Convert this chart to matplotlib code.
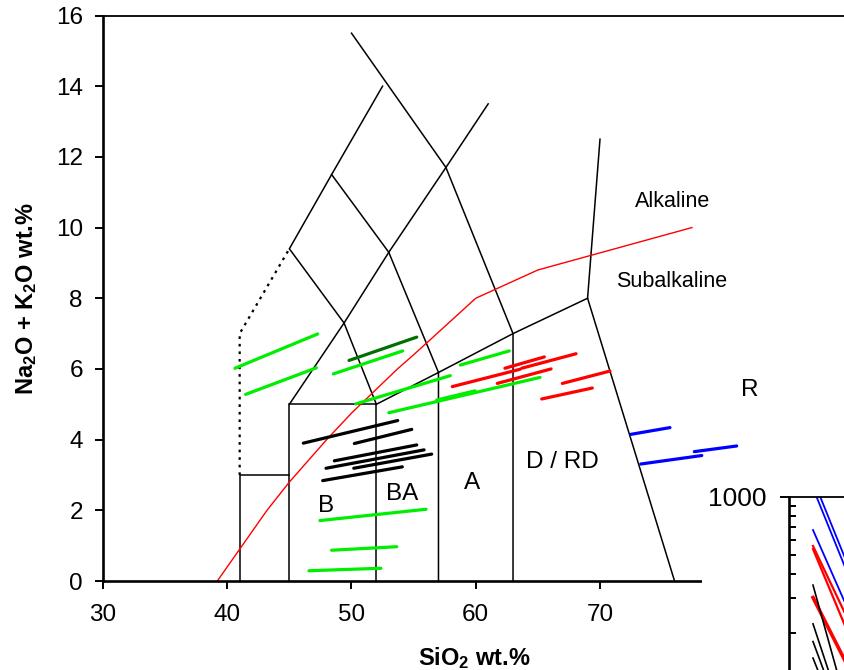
import matplotlib
matplotlib.use("Agg")
import matplotlib.pyplot as plt
from matplotlib.patches import Rectangle
from matplotlib.ticker import NullFormatter, FixedLocator, FixedFormatter

plt.rcParams['font.family'] = ['Liberation Sans', 'DejaVu Sans']
plt.rcParams['mathtext.fontset'] = 'custom'
plt.rcParams['mathtext.rm'] = 'Liberation Sans:bold'
plt.rcParams['mathtext.default'] = 'rm'

# ---------------- data ----------------
x_ticks = [30, 40, 50, 60, 70]
y_ticks = [0, 2, 4, 6, 8, 10, 12, 14, 16]

# TAS field boundaries (SiO2, Na2O+K2O)
tas_solid = [
    [(41, 0), (41, 3), (45, 3)],
    [(45, 0), (45, 5), (52, 5), (52, 0)],
    [(52, 5), (57, 5.9), (57, 0)],
    [(57, 5.9), (63, 7), (63, 0)],
    [(63, 7), (69, 8), (76, 0)],
    [(69, 8), (70, 12.5)],
    [(45, 5), (49.4, 7.3), (53, 9.3), (57.6, 11.7), (61, 13.5)],
    [(52, 5), (49.4, 7.3), (45, 9.4), (48.4, 11.5), (52.5, 14)],
    [(57, 5.9), (53, 9.3), (48.4, 11.5)],
    [(63, 7), (57.6, 11.7), (50, 15.5)],
]
tas_dotted = [(41, 3), (41, 7), (45, 9.4)]

# Alkaline / subalkaline divide
alk_sio2 = [39.2, 40, 43.2, 45, 48, 50, 53.7, 55, 60, 65, 77.4]
alk_total = [0, 0.4, 2.0, 2.8, 4.0, 4.75, 6.0, 6.4, 8.0, 8.8, 10.0]

# sample trends: (SiO2 start, total start, SiO2 end, total end)
green_segments = [
    (40.62, 6.02, 47.28, 6.99),
    (41.48, 5.28, 47.17, 6.03),
    (48.54, 5.86, 54.12, 6.51),
    (50.34, 5.01, 57.95, 5.81),
    (58.76, 6.11, 62.70, 6.51),
    (53.00, 4.76, 65.17, 5.76),
    (56.86, 5.12, 59.94, 5.38),
    (47.46, 1.71, 56.00, 2.03),
    (48.40, 0.87, 53.64, 0.97),
    (46.58, 0.29, 52.37, 0.36),
]
darkgreen_segments = [
    (49.80, 6.24, 55.25, 6.90),
]
black_segments = [
    (46.12, 3.90, 53.72, 4.54),
    (50.23, 3.89, 54.85, 4.29),
    (48.62, 3.40, 55.25, 3.85),
    (47.95, 3.19, 55.84, 3.71),
    (50.18, 3.19, 56.45, 3.59),
    (47.68, 2.84, 54.09, 3.23),
]
red_segments = [
    (62.35, 6.02, 65.52, 6.34),
    (63.70, 6.02, 68.07, 6.43),
    (58.11, 5.50, 63.56, 5.99),
    (61.73, 5.59, 66.06, 6.00),
    (66.97, 5.59, 70.80, 5.94),
    (65.31, 5.15, 69.38, 5.46),
]
blue_segments = [
    (72.49, 4.15, 75.63, 4.34),
    (73.28, 3.31, 78.19, 3.55),
    (77.59, 3.66, 81.00, 3.82),
]

field_labels = ["B", "BA", "A", "D / RD", "R"]
field_label_x = [47.99, 54.04, 59.72, 66.94, 82.07]
field_label_y = [1.96, 2.29, 2.59, 3.20, 5.23]

series_labels = ["Alkaline", "Subalkaline"]
series_label_x = [75.83, 75.77]
series_label_y = [10.58, 8.32]

# inset spider diagram (partially visible)
inset_elem = [1, 2]
inset_blue = [[1108, 344], [1233, 383], [674, 230]]
inset_red = [[558, 206], [538, 173]]
inset_red_thick = [[303, 119]]
inset_black = [[351, 64], [222, 53], [180, 50], [148, 45]]
inset_ticks = [10, 100, 1000]
inset_tick_labels = ['', '', '1000']

# ---------------- figure ----------------
W, H = 845, 670
fig = plt.figure(figsize=(W / 100, H / 100), dpi=100)
fig.patch.set_facecolor('white')

ax = fig.add_axes([103 / W, 89 / H, (W - 103) / W, 565.5 / H])
ax.set_xlim(30, 30 + 742 / 12.425)
ax.set_ylim(0, 16)

for pts in tas_solid:
    xs, ys = zip(*pts)
    ax.plot(xs, ys, color='black', lw=1.1, solid_joinstyle='miter', zorder=2)
xs, ys = zip(*tas_dotted)
ax.plot(xs, ys, color='black', lw=1.6, linestyle=(0, (1.2, 2.2)), zorder=2)

ax.plot(alk_sio2, alk_total, color='red', lw=1.0, zorder=2)

def draw(segs, color, lw):
    for x0, y0, x1, y1 in segs:
        ax.plot([x0, x1], [y0, y1], color=color, lw=lw,
                solid_capstyle='round', zorder=3)

draw(green_segments, '#00ee00', 2.3)
draw(darkgreen_segments, '#007000', 2.3)
draw(black_segments, 'black', 2.3)
draw(red_segments, '#ff0000', 2.3)
draw(blue_segments, '#0000ff', 2.3)

for t, x, y in zip(field_labels, field_label_x, field_label_y):
    ax.text(x, y, t, fontsize=17.5, ha='center', va='baseline')
for t, x, y in zip(series_labels, series_label_x, series_label_y):
    ax.text(x, y, t, fontsize=15.5, ha='center', va='baseline')

ax.set_xticks(x_ticks)
ax.set_yticks(y_ticks)
ax.tick_params(axis='both', labelsize=17.5, length=5.5, width=1.4,
               direction='out', top=False, right=False)
ax.tick_params(axis='y', pad=9)
ax.tick_params(axis='x', pad=11)
ax.spines['right'].set_visible(False)
ax.spines['left'].set_linewidth(1.9)
ax.spines['bottom'].set_linewidth(1.9)
ax.spines['top'].set_linewidth(1.3)

ax.set_xlabel('SiO$_2$ wt.%', fontsize=17, fontweight='bold', labelpad=14)
ax.set_ylabel('Na$_2$O + K$_2$O wt.%', fontsize=17, fontweight='bold', labelpad=12)

# white cover for the pasted second chart
fig.patches.append(Rectangle((702 / W, 0), (W - 702) / W, (H - 480) / H,
                             transform=fig.transFigure, facecolor='white',
                             edgecolor='none', zorder=5))

# inset
ax2 = fig.add_axes([789 / W, (H - 885.7) / H, (1300 - 789) / W, 389 / H], zorder=10)
ax2.set_yscale('log')
ax2.set_ylim(10, 1000)
ax2.set_xlim(0.4, 0.4 + (1300 - 789) / 40)
for v in inset_blue:
    ax2.plot(inset_elem, v, color='#0000ff', lw=1.3)
for v in inset_red:
    ax2.plot(inset_elem, v, color='#ff0000', lw=1.6)
for v in inset_red_thick:
    ax2.plot(inset_elem, v, color='#ff0000', lw=2.6)
for v in inset_black:
    ax2.plot(inset_elem, v, color='black', lw=1.2)
ax2.set_xticks([])
ax2.yaxis.set_major_locator(FixedLocator(inset_ticks))
ax2.yaxis.set_major_formatter(FixedFormatter(inset_tick_labels))
ax2.yaxis.set_minor_formatter(NullFormatter())
ax2.tick_params(axis='y', which='major', direction='out', length=6.5, width=1.4,
                labelsize=19, pad=10)
ax2.tick_params(axis='y', which='minor', direction='in', length=5, width=1.4)
ax2.spines['right'].set_visible(False)
ax2.spines['bottom'].set_visible(False)
ax2.spines['left'].set_linewidth(1.9)
ax2.spines['top'].set_linewidth(1.3)

fig.savefig('out.png', dpi=100, facecolor='white')
